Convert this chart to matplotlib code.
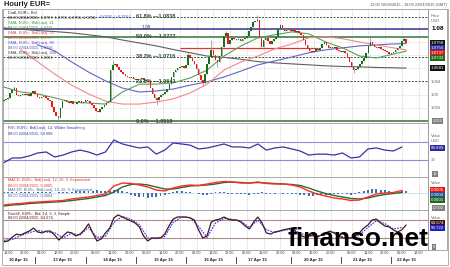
import matplotlib
matplotlib.use("Agg")
import matplotlib.pyplot as plt
import matplotlib.transforms as mtrans
import numpy as np
import pandas as pd

plt.rcParams["font.family"] = ["Liberation Sans", "DejaVu Sans"]

W, H = 450, 267

# hourly bars, weekend hours skipped
times = pd.DatetimeIndex(
    list(pd.date_range("2015-04-10 12:00", "2015-04-10 22:00", freq="h"))
    + list(pd.date_range("2015-04-12 21:00", "2015-04-17 22:00", freq="h"))
    + list(pd.date_range("2015-04-19 21:00", "2015-04-22 18:00", freq="h")))

first_open = 1.0580
closes = [
    1.0583, 1.0587, 1.0590, 1.0605, 1.0614, 1.0620, 1.0599, 1.0596, 1.0599, 1.0602,
    1.0599, 1.0602, 1.0596, 1.0605, 1.0611, 1.0602, 1.0593, 1.0590, 1.0593, 1.0596,
    1.0590, 1.0583, 1.0580, 1.0562, 1.0547, 1.0534, 1.0528, 1.0559, 1.0580, 1.0583,
    1.0577, 1.0574, 1.0580, 1.0571, 1.0571, 1.0577, 1.0580, 1.0574, 1.0577, 1.0583,
    1.0580, 1.0574, 1.0568, 1.0559, 1.0550, 1.0547, 1.0556, 1.0562, 1.0568, 1.0574,
    1.0577, 1.0675, 1.0691, 1.0694, 1.0685, 1.0675, 1.0669, 1.0663, 1.0657, 1.0654,
    1.0651, 1.0654, 1.0648, 1.0645, 1.0647,
    1.0648, 1.0651, 1.0645, 1.0642, 1.0639, 1.0620,
    1.0602, 1.0590, 1.0583, 1.0593, 1.0599, 1.0602, 1.0608, 1.0617, 1.0632, 1.0654,
    1.0669, 1.0675, 1.0682, 1.0685, 1.0688, 1.0682, 1.0691, 1.0721, 1.0712, 1.0703,
    1.0694, 1.0678, 1.0660, 1.0645, 1.0636, 1.0663, 1.0694, 1.0715, 1.0737, 1.0721,
    1.0706, 1.0700, 1.0718, 1.0746, 1.0780, 1.0789, 1.0755, 1.0767, 1.0774, 1.0771,
    1.0767, 1.0771, 1.0764, 1.0771, 1.0774, 1.0780, 1.0795, 1.0807, 1.0823, 1.0826,
    1.0829, 1.0774, 1.0746, 1.0767, 1.0774, 1.0764, 1.0755, 1.0764, 1.0770,
    1.0777, 1.0801, 1.0813, 1.0804, 1.0795, 1.0798, 1.0801, 1.0795, 1.0798, 1.0792, 1.0795, 1.0789,
    1.0783, 1.0767, 1.0752, 1.0743, 1.0734, 1.0731, 1.0734, 1.0740, 1.0737, 1.0743,
    1.0755, 1.0761, 1.0752, 1.0743, 1.0746, 1.0743, 1.0746, 1.0737, 1.0734, 1.0731,
    1.0734, 1.0728, 1.0715, 1.0700, 1.0685, 1.0675, 1.0678, 1.0685, 1.0694, 1.0703,
    1.0712, 1.0728, 1.0749, 1.0761, 1.0752, 1.0746, 1.0743, 1.0745, 1.0740, 1.0737,
    1.0734, 1.0731, 1.0724, 1.0728, 1.0731, 1.0737, 1.0743, 1.0749, 1.0764, 1.0771, 1.0758,
]
# long wicks (bar index -> price)
wick_high = {5: 1.0626, 52: 1.0706, 88: 1.0731, 99: 1.0767, 106: 1.0795,
             121: 1.0844, 132: 1.0816, 175: 1.0783, 191: 1.0777}
wick_low = {26: 1.0519, 73: 1.0568, 95: 1.0626, 102: 1.0685, 167: 1.0666}

# moving averages, read every 8 bars
sma21 = [1.0623, 1.0608, 1.0602, 1.0590, 1.0577, 1.0574, 1.0571, 1.0608, 1.0632, 1.0632,
         1.0636, 1.0651, 1.0675, 1.0718, 1.0749, 1.0774, 1.0783, 1.0792, 1.0786, 1.0761,
         1.0743, 1.0718, 1.0712, 1.0724, 1.0733]
sma55 = [1.0737, 1.0700, 1.0663, 1.0629, 1.0602, 1.0580, 1.0571, 1.0571, 1.0577, 1.0587,
         1.0605, 1.0632, 1.0675, 1.0700, 1.0718, 1.0740, 1.0755, 1.0774, 1.0777, 1.0771,
         1.0761, 1.0752, 1.0743, 1.0737]
sma89 = [1.0752, 1.0734, 1.0700, 1.0669, 1.0642, 1.0620, 1.0608, 1.0611, 1.0617, 1.0629,
         1.0639, 1.0654, 1.0672, 1.0691, 1.0703, 1.0715, 1.0728, 1.0737, 1.0743, 1.0749,
         1.0752, 1.0755, 1.0756]
sma200 = [1.0804, 1.0800, 1.0796, 1.0793, 1.0789, 1.0783, 1.0777, 1.0767, 1.0758, 1.0749,
          1.0738, 1.0728, 1.0718, 1.0714, 1.0708, 1.0701, 1.0697, 1.0694, 1.0691, 1.0688,
          1.0686, 1.0685, 1.0683, 1.0682, 1.0681]

fib_names = ["61.8%", "50.0%", "38.2%", "23.6%", "0.0%"]
fib_levels = [1.0838, 1.0777, 1.0716, 1.0641, 1.0519]
round_level = 1.08
support_level = 1.0742

# indicators, read every 4 bars
rsi = [24, 34.5, 34.5, 39, 45.6, 47.8, 36.7, 41, 47.8, 52, 47.8, 41, 47.8, 74.4, 65.6, 61,
       56.7, 59, 43, 52, 67.8, 65.6, 63, 54.5, 56.7, 61, 65.6, 59, 59, 56.7, 65.6, 52,
       56.7, 59, 54.5, 50, 41, 43, 43, 41, 45.6, 34.5, 36.7, 54.5, 56.7, 52, 50, 58.7]
macd = [-0.00216, -0.00198, -0.00189, -0.00171, -0.00162, -0.00153, -0.00144, -0.00135,
        -0.00108, -0.00090, -0.00072, -0.00045, -0.00018, 0.00126, 0.00180, 0.00171,
        0.00144, 0.00108, 0.00054, 0.00036, 0.00090, 0.00126, 0.00144, 0.00135,
        0.00162, 0.00189, 0.00207, 0.00198, 0.00180, 0.00180, 0.00198, 0.00171,
        0.00162, 0.00162, 0.00144, 0.00108, 0.00036, -0.00018, -0.00054, -0.00090,
        -0.00108, -0.00135, -0.00126, -0.00072, -0.00018, 0.00000, 0.00009, 0.00045]
signal = [-0.00234, -0.00216, -0.00207, -0.00189, -0.00180, -0.00171, -0.00162, -0.00153,
          -0.00135, -0.00117, -0.00099, -0.00072, -0.00045, 0.00018, 0.00108, 0.00153,
          0.00162, 0.00144, 0.00108, 0.00072, 0.00072, 0.00099, 0.00126, 0.00135,
          0.00144, 0.00162, 0.00189, 0.00198, 0.00189, 0.00180, 0.00189, 0.00180,
          0.00171, 0.00162, 0.00153, 0.00135, 0.00090, 0.00036, -0.00009, -0.00045,
          -0.00072, -0.00099, -0.00108, -0.00090, -0.00054, -0.00027, -0.00009, 0.00009]
stoch_d = [12, 15, 28, 38, 45, 40, 38, 20, 36, 30, 55, 22, 25, 72, 92, 82, 65, 20, 18, 25,
           72, 90, 88, 58, 22, 70, 85, 82, 76, 55, 80, 48, 38, 45, 50, 36, 26, 26, 33, 40,
           24, 20, 30, 55, 78, 68, 50, 55]

# read every 2 bars
hist_e4 = [2, 2, 1, 1,
           1, 1, 1, 2, 1, 1, 2, 1, 0, 1, 2, 2, 2,
           3, 4, 4, 3, 4, 5, 4, 3, 4,
           6, 5, 3, 1,
           -3, -5, -7, -8, -9, -8, -7, -5, -3, -1,
           2, 3, 3, 2, 1, 0,
           -2, -3, -3, -1,
           1, 2, 1, -1, -2,
           -2, -1, -2, -3, -2, -1,
           1, -1, -2, -1, 0, -1,
           -1, -2, -2, -3,
           -4, -5, -5, -4, -4,
           -3, -3, -2, -2, -1,
           -2, -3, -1, 1,
           4, 6, 8, 7, 6, 5,
           3, 2, 2, 3, 4]
stoch_k = [7, 10, 23, 33, 30, 37, 43, 53, 40, 37,
           43, 43, 30, 13, 27, 40, 37, 27, 33, 47,
           67, 37, 10, 17, 37, 53, 87, 97, 90, 83,
           77, 70, 57, 27, 10, 20, 20, 20, 33, 60,
           83, 90, 90, 90, 87, 80, 47, 20, 27, 73,
           80, 83, 90, 83, 80, 80, 73, 60, 50, 73,
           90, 70, 37, 33, 40, 43, 47, 50, 53, 40,
           30, 23, 27, 30, 23, 30, 37, 43, 37, 27,
           20, 20, 20, 27, 37, 53, 63, 80, 83, 70,
           60, 57, 47, 40, 47, 63]

tick_times = ["2015-04-10 14:00", "2015-04-10 22:00",
              "2015-04-13 04:00", "2015-04-13 12:00", "2015-04-13 20:00",
              "2015-04-14 06:00", "2015-04-14 14:00", "2015-04-14 22:00",
              "2015-04-15 06:00", "2015-04-15 14:00", "2015-04-15 22:00",
              "2015-04-16 06:00", "2015-04-16 14:00", "2015-04-16 22:00",
              "2015-04-17 06:00", "2015-04-17 14:00", "2015-04-17 22:00",
              "2015-04-20 04:00", "2015-04-20 12:00", "2015-04-20 20:00",
              "2015-04-21 06:00", "2015-04-21 14:00", "2015-04-21 22:00",
              "2015-04-22 06:00", "2015-04-22 14:00"]
day_names = ["10 Apr 15", "13 Apr 15", "14 Apr 15", "15 Apr 15", "16 Apr 15",
             "17 Apr 15", "20 Apr 15", "21 Apr 15", "22 Apr 15"]
day_anchor = ["2015-04-10 19:00", "2015-04-13 14:00", "2015-04-14 14:00",
              "2015-04-15 14:00", "2015-04-16 14:00", "2015-04-17 11:00",
              "2015-04-20 12:00", "2015-04-21 11:00", "2015-04-22 08:00"]
day_starts = ["2015-04-13 01:00", "2015-04-14 01:00", "2015-04-15 01:00",
              "2015-04-16 01:00", "2015-04-17 01:00", "2015-04-20 01:00",
              "2015-04-21 01:00", "2015-04-22 01:00"]


def bar_of(t):
    return times.get_loc(pd.Timestamp(t))


n = len(closes)
x = np.arange(n)
c = np.array(closes)
o = np.concatenate([[first_open], c[:-1]])
hi = np.maximum(o, c)
lo = np.minimum(o, c)
for k, v in wick_high.items():
    hi[k] = max(hi[k], v)
for k, v in wick_low.items():
    lo[k] = min(lo[k], v)

ma_x = np.append(np.linspace(0, 186, 24), 192)
x4 = np.linspace(0, 190, len(rsi))
x2 = np.linspace(0, 192, len(hist_e4))

fig = plt.figure(figsize=(W / 100, H / 100), dpi=100)
fig.patch.set_facecolor("white")


def rect(x0, y0, x1, y1):
    return [x0 / W, 1 - y1 / H, (x1 - x0) / W, (y1 - y0) / H]


def fpos(px, py):
    return px / W, 1 - py / H


RX = 428  # right edge of the plotting area
ax_p = fig.add_axes(rect(3, 9, RX, 123))
ax_r = fig.add_axes(rect(3, 123, RX, 177), sharex=ax_p)
ax_m = fig.add_axes(rect(3, 177, RX, 210), sharex=ax_p)
ax_s = fig.add_axes(rect(3, 210, RX, 250), sharex=ax_p)
axes = [ax_p, ax_r, ax_m, ax_s]

tick_idx = [bar_of(t) for t in tick_times]
for ax in axes:
    ax.set_xlim(-0.4, len(times) - 0.5)
    ax.set_xticks([])
    ax.set_yticks([])
    for s in ax.spines.values():
        s.set_color("#9a9a9a")
        s.set_linewidth(0.6)
    for t in tick_idx:
        ax.axvline(t, color="#b8b8b8", lw=0.5, ls=(0, (1, 1.5)), zorder=0)

# ---- price panel
ax_p.set_ylim(1.0513, 1.0862)
for lv in [1.056, 1.060, 1.068, 1.072, 1.076]:
    ax_p.axhline(lv, color="#c8c8c8", lw=0.5, ls=(0, (1, 1.5)), zorder=0)
fib_green = "#5d9160"
for name, lv in zip(fib_names, fib_levels):
    if name in ("50.0%", "0.0%"):
        ax_p.axhline(lv, color=fib_green, lw=1.4, zorder=1)
    else:
        ax_p.axhline(lv, color="#3d4f3d", lw=0.7, ls=(0, (2, 1.5)), zorder=1)
    ax_p.text(63, lv, name + " \u2014" + f"{lv:.4f}", fontsize=4.0, color="#2f4a2f",
              fontweight="bold", va="center", ha="left", zorder=6)
ax_p.axhline(round_level, color="#34348e", lw=1.1, zorder=1)
ax_p.text(68, round_level + 0.0004, "1.08", fontsize=3.4, color="#34348e",
          va="center", ha="center", zorder=6)
ax_p.hlines(support_level, 84, 150, color="#e83030", lw=0.9, zorder=2)

ax_p.plot(ma_x, sma200, color="#5e5e5e", lw=0.8, zorder=3)
ax_p.plot(ma_x[-len(sma89):], sma89, color="#6464c8", lw=0.8, zorder=3)
ax_p.plot(ma_x[-len(sma55):], sma55, color="#f08a8a", lw=0.8, zorder=3)
ax_p.plot(ma_x, sma21, color="#5aa05a", lw=0.8, zorder=3)

up = c >= o
ax_p.vlines(x, lo, hi, color="#8c8c8c", lw=0.5, zorder=4)
body = np.maximum(np.abs(c - o), 0.00008)
ax_p.bar(x, body, bottom=np.minimum(o, c), width=0.75,
         color=np.where(up, "#1a701a", "#f01818"), zorder=5, linewidth=0)

# ---- RSI panel
ax_r.set_ylim(-7.8, 112.2)
ax_r.axhline(70, color="#8d8dd8", lw=0.8)
ax_r.axhline(30, color="#8d8dd8", lw=0.8)
ax_r.plot(x4, rsi, color="#3535a5", lw=0.9)

# ---- MACD panel
ax_m.set_ylim(-0.00306, 0.00288)
ax_m.bar(x2, np.array(hist_e4) * 1e-4, width=0.9, color="#3f6fa8", linewidth=0)
ax_m.axhline(0, color="#6f8fc0", lw=0.4, ls=(0, (1, 1)))
ax_m.plot(x4, signal, color="#2a6a2a", lw=1.0)
ax_m.plot(x4, macd, color="#ff2a2a", lw=1.0)

# ---- Stochastic panel
ax_s.set_ylim(-20, 113.3)
ax_s.axhline(80, color="#a88c8c", lw=0.8)
ax_s.axhline(20, color="#a88c8c", lw=0.8)
ax_s.plot(x4, stoch_d, color="#3030ff", lw=0.8, ls=(0, (1.5, 1)))
ax_s.plot(x2, stoch_k, color="#4a1818", lw=0.9)

# ---- legends
FS = 2.8
legend_rows = [
    (12.3, "Cndl, EUR=, Bid", "#202020"),
    (23.0, "SMA, EUR=, Bid(Last), 21", "#3f8f3f"),
    (28.0, "08:00 22/04/2015, 1.0733", "#3f8f3f"),
    (33.0, "SMA, EUR=, Bid(Last), 55", "#e04040"),
    (38.0, "08:00 22/04/2015, 1.0737", "#e04040"),
    (43.0, "SMA, EUR=, Bid(Last), 89", "#5050c0"),
    (48.0, "08:00 22/04/2015, 1.0756", "#5050c0"),
    (53.0, "SMA, EUR=, Bid(Last), 200", "#404040"),
    (58.0, "08:00 22/04/2015, 1.0681", "#404040"),
    (128.5, "RSI, EUR=, Bid(Last), 14, Wilder Smoothing", "#3535a5"),
    (133.5, "08:00 22/04/2015, 58.689", "#3535a5"),
    (180.5, "MACD, EUR=, Bid(Last), 12, 26, 9, Exponential", "#ff2a2a"),
    (190.5, "MACDF, EUR=, Bid(Last), 12, 26, 9, Exponential", "#3f6fa8"),
    (195.5, "08:00 22/04/2015, 0.0004", "#3f6fa8"),
    (213.5, "StochF, EUR=, Bid, 14, 3, 3, Simple", "#4a1818"),
]
for py, txt, col in legend_rows:
    fig.text(*fpos(8, py), txt, fontsize=FS, color=col, va="center", ha="left")

mixed_rows = [
    (17.3, "08:00 22/04/2015, 1.0767, 1.0772, 1.0756, 1.0758,", "#202020",
     "+0.0025, (+0.23%)", "#3050d0"),
    (185.5, "08:00 22/04/2015, 0.0005,", "#ff2a2a", "0.0001", "#2a6a2a"),
    (218.0, "08:00 22/04/2015, 64.674,", "#4a1818", "58.722", "#3030ff"),
]
for py, t1, c1, t2, c2 in mixed_rows:
    a = fig.text(*fpos(8, py), t1, fontsize=FS, color=c1, va="center", ha="left")
    ax_p.annotate(t2, xy=(1, 0.5), xycoords=a, xytext=(1.0, 0),
                  textcoords="offset points", fontsize=FS, color=c2,
                  va="center", ha="left", annotation_clip=False)

# ---- right-hand value column
fig.patches.append(plt.Rectangle(fpos(RX, 250), (447 - RX) / W, 241 / H,
                                 transform=fig.transFigure, fill=False, ec="#9a9a9a", lw=0.6))
plain_labels = [(16, "Price", "#707070"), (21, "USD", "#707070"),
                (82, "1.064", "#606060"), (95, "1.06", "#606060"), (108, "1.056", "#606060"),
                (136, "Value", "#707070"), (141, "USD", "#707070"), (160, "30", "#606060"),
                (183, "Value", "#707070"), (218, "Value", "#707070")]
for py, txt, col in plain_labels:
    fig.text(*fpos(431, py), txt, fontsize=3.0, color=col, va="center", ha="left")
fig.text(*fpos(432, 29), "1.08", fontsize=4.6, color="black", fontweight="bold",
         va="center", ha="left")

box_labels = [(43, "1.0758", "#101010"), (48, "1.0756", "#2a2aa0"), (53, "1.0737", "#e01818"),
              (58, "1.0733", "#1d6a1d"), (68, "1.0681", "#101010"),
              (148, "58.689", "#2a2aa0"),
              (190, "0.0005", "#e01818"), (195, "0.0004", "#2a4a90"), (200, "0.0001", "#1d6a1d"),
              (223, "64.674", "#3a1010"), (228, "58.722", "#2020c0")]
for py, txt, col in box_labels:
    fig.text(*fpos(431, py), txt, fontsize=3.2, color="white", va="center", ha="left",
             bbox=dict(boxstyle="square,pad=0.18", fc=col, ec="none"))
# small grey range markers at the bottom of each panel
small_boxes = [(121, "1.052"), (174, "10"), (208, "-0.002"), (247, "0")]
for py, txt in small_boxes:
    fig.text(*fpos(433, py), txt, fontsize=2.8, color="white", va="center", ha="left",
             bbox=dict(boxstyle="square,pad=0.18", fc="#808080", ec="none"))

# ---- time axis
bt = mtrans.blended_transform_factory(ax_s.transData, fig.transFigure)
for t, lab in zip(tick_idx, tick_times):
    fig.text(t, 1 - 253.5 / H, lab[-5:], transform=bt, fontsize=2.7, color="#404040",
             ha="center", va="center")
for name, t in zip(day_names, day_anchor):
    fig.text(bar_of(t), 1 - 259.5 / H, name, transform=bt, fontsize=3.1,
             fontweight="bold", color="#202020", ha="center", va="center")
for t in day_starts:
    fig.lines.append(plt.Line2D([bar_of(t)] * 2, [1 - 256.5 / H, 1 - 262.5 / H], transform=bt,
                                color="#303030", lw=0.6))

# ---- frame and header
fig.patches.append(plt.Rectangle(fpos(2, 265), 446 / W, 256 / H, transform=fig.transFigure,
                                 fill=False, ec="#b0b0b0", lw=0.7))
fig.text(*fpos(4, 5), "Hourly EUR=", fontsize=5.4, fontweight="bold", color="#202020",
         va="center", ha="left")
fig.text(*fpos(447, 5), "12:00 10/04/2015 - 18:00 22/04/2015 (GMT)", fontsize=2.8,
         color="#505050", va="center", ha="right")

# watermark
fig.text(*fpos(288, 246.5), "finanso.net", fontsize=19, fontweight="bold",
         color="black", va="baseline", ha="left", zorder=20)

fig.savefig("out.png", dpi=100)
